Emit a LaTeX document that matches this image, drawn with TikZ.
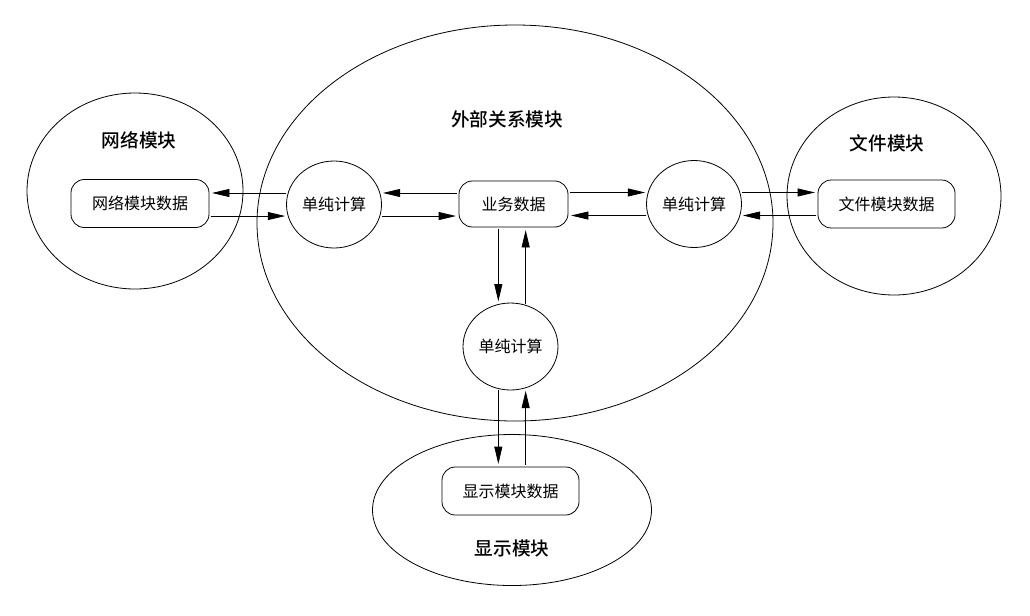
\documentclass[tikz,border=0pt]{standalone}
\usepackage{fontspec}
\setmainfont{Noto Sans CJK SC}
\IfFontExistsTF{Noto Sans CJK SC Medium}
  {\newfontfamily\titlefont{Noto Sans CJK SC Medium}}
  {\newcommand\titlefont{\bfseries}}
\usetikzlibrary{shapes.geometric}
\usetikzlibrary{arrows.meta}

\begin{document}
\begin{tikzpicture}[x=0.75pt, y=-0.75pt, line width=0.6pt,
  module/.style={draw, ellipse, inner sep=0pt},
  calcnode/.style={draw, ellipse, minimum width=71.25pt, minimum height=65.25pt, inner sep=0pt, font=\fontsize{12}{14}\selectfont},
  databox/.style={draw, rounded corners=10pt, minimum height=36pt, inner sep=0pt, font=\fontsize{12}{14}\selectfont},
  title/.style={font=\fontsize{14}{16}\selectfont\titlefont},
  arr/.style={-{Triangle[length=13pt,width=6pt]}, shorten >=2pt, shorten <=1pt}
]
\useasboundingbox (0,0) rectangle (1030,615);

% module outlines
\node[module, minimum width=387pt, minimum height=297pt] (extmod) at (515,223) {};
\node[module, minimum width=162pt, minimum height=147pt] (netmod) at (135,191) {};
\node[module, minimum width=160.5pt, minimum height=148.5pt] (filemod) at (894,196) {};
\node[module, minimum width=209.25pt, minimum height=113.25pt] (dispmod) at (512,510) {};

\node[title] (exttitle) at (507,119) {外部关系模块};
\node[title] (nettitle) at (139,140) {网络模块};
\node[title] (filetitle) at (887,143) {文件模块};
\node[title] (disptitle) at (512,548) {显示模块};

% data
\node[databox, minimum width=103.5pt] (netdata) at (140,203.5) {网络模块数据};
\node[databox, minimum width=81.75pt, minimum height=34.5pt] (bizdata) at (513.5,204) {业务数据};
\node[databox, minimum width=102.75pt] (filedata) at (886.5,204) {文件模块数据};
\node[databox, minimum width=102.75pt] (dispdata) at (510.5,491) {显示模块数据};

% calculations
\node[calcnode] (calcl) at (334,204.5) {单纯计算};
\node[calcnode] (calcr) at (694,204) {单纯计算};
\node[calcnode] (calcb) at (510.5,346.5) {单纯计算};

% network side
\draw[arr] (calcl.166) -- (calcl.166 -| netdata.east);
\draw[arr] (calcl.194 -| netdata.east) -- (calcl.194);

% business data, left and right
\draw[arr] (calcl.14 -| bizdata.west) -- (calcl.14);
\draw[arr] (calcl.346) -- (calcl.346 -| bizdata.west);
\draw[arr] (calcr.166 -| bizdata.east) -- (calcr.166);
\draw[arr] (calcr.194) -- (calcr.194 -| bizdata.east);

% file side
\draw[arr] (calcr.14) -- (calcr.14 -| filedata.west);
\draw[arr] (calcr.346 -| filedata.west) -- (calcr.346);

% business data, down
\draw[arr] (calcb.106 |- bizdata.south) -- (calcb.106);
\draw[arr] (calcb.70) -- (calcb.70 |- bizdata.south);

% display side
\draw[arr] (calcb.254) -- (calcb.254 |- dispdata.north);
\draw[arr] (calcb.290 |- dispdata.north) -- (calcb.290);

\end{tikzpicture}
\end{document}
